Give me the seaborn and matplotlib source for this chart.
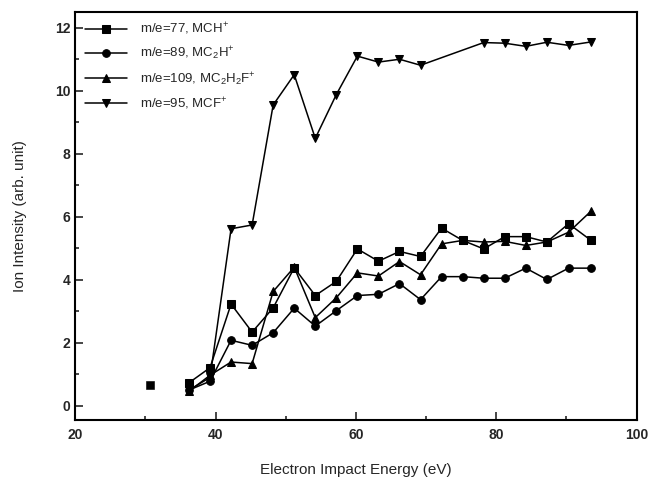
import matplotlib
matplotlib.use("Agg")
import matplotlib.pyplot as plt
from matplotlib.ticker import MultipleLocator
import seaborn as sns
import pandas as pd

sns.set_style("ticks")
plt.rcParams['font.family'] = ['Liberation Sans', 'DejaVu Sans']
plt.rcParams['mathtext.fontset'] = 'custom'
plt.rcParams['mathtext.rm'] = 'Liberation Sans'
plt.rcParams['mathtext.it'] = 'Liberation Sans'

energy = [36.2, 39.2, 42.2, 45.2, 48.2, 51.2, 54.2, 57.2, 60.2, 63.2,
          66.2, 69.2, 72.2, 75.2, 78.2, 81.2, 84.2, 87.2, 90.3, 93.5]

mch = [0.73, 1.21, 3.23, 2.34, 3.11, 4.38, 3.50, 3.95, 4.98, 4.59,
       4.90, 4.74, 5.64, 5.25, 4.98, 5.37, 5.37, 5.20, 5.78, 5.25]
mc2h = [0.50, 0.78, 2.08, 1.92, 2.32, 3.10, 2.53, 3.02, 3.50, 3.54,
        3.88, 3.37, 4.10, 4.10, 4.05, 4.05, 4.37, 4.01, 4.37, 4.37]
mc2h2f = [0.46, 0.97, 1.39, 1.34, 3.63, 4.40, 2.80, 3.43, 4.22, 4.12,
          4.58, 4.16, 5.14, 5.25, 5.20, 5.22, 5.09, 5.20, 5.51, 6.18]

mcf_energy = [36.2, 39.2, 42.2, 45.2, 48.2, 51.2, 54.2, 57.2, 60.2, 63.2,
              66.2, 69.2, 78.2, 81.2, 84.2, 87.2, 90.3, 93.5]
mcf = [0.50, 0.90, 5.62, 5.74, 9.55, 10.51, 8.49, 9.88, 11.10, 10.91,
       11.00, 10.81, 11.53, 11.51, 11.41, 11.54, 11.44, 11.55]

iso_energy = [30.6]
iso_value = [0.65]

labels = ["m/e=77, MCH$^{+}$", "m/e=89, MC$_{2}$H$^{+}$",
          "m/e=109, MC$_{2}$H$_{2}$F$^{+}$", "m/e=95, MCF$^{+}$"]

fig = plt.figure(figsize=(6.49, 4.8), dpi=100)
ax = fig.add_axes([0.116, 0.125, 0.865, 0.85])

series = [(energy, mch, 's'), (energy, mc2h, 'o'),
          (energy, mc2h2f, '^'), (mcf_energy, mcf, 'v')]
for (xs, ys, mk), lab in zip(series, labels):
    df = pd.DataFrame({"x": xs, "y": ys})
    sns.lineplot(data=df, x="x", y="y", ax=ax, color="black", marker=mk,
                 markersize=5.5, linewidth=1.1, markeredgecolor="black",
                 label=lab, estimator=None, sort=False)

sns.scatterplot(x=iso_energy, y=iso_value, ax=ax, color="black", marker="s",
                s=26, edgecolor="black", legend=False)

ax.set_xlim(20, 100)
ax.set_ylim(-0.45, 12.5)
ax.xaxis.set_major_locator(MultipleLocator(20))
ax.xaxis.set_minor_locator(MultipleLocator(10))
ax.yaxis.set_major_locator(MultipleLocator(2))
ax.yaxis.set_minor_locator(MultipleLocator(1))
ax.tick_params(which='both', direction='in', top=False, right=False,
               labelsize=10, width=1.2)
ax.tick_params(which='major', length=6)
ax.tick_params(which='minor', length=3)
ax.tick_params(axis='x', pad=6)
for lbl in ax.get_xticklabels() + ax.get_yticklabels():
    lbl.set_fontweight('bold')
for sp in ax.spines.values():
    sp.set_linewidth(1.5)
    sp.set_color('black')

ax.set_xlabel("Electron Impact Energy (eV)", fontsize=11, labelpad=15)
ax.set_ylabel("Ion Intensity (arb. unit)", fontsize=11, labelpad=20)

ax.legend(loc='upper left', frameon=False, fontsize=9.5, handlelength=3.2,
          labelspacing=0.6, borderaxespad=0.3, handletextpad=1.0)

fig.savefig("out.png", dpi=100)
